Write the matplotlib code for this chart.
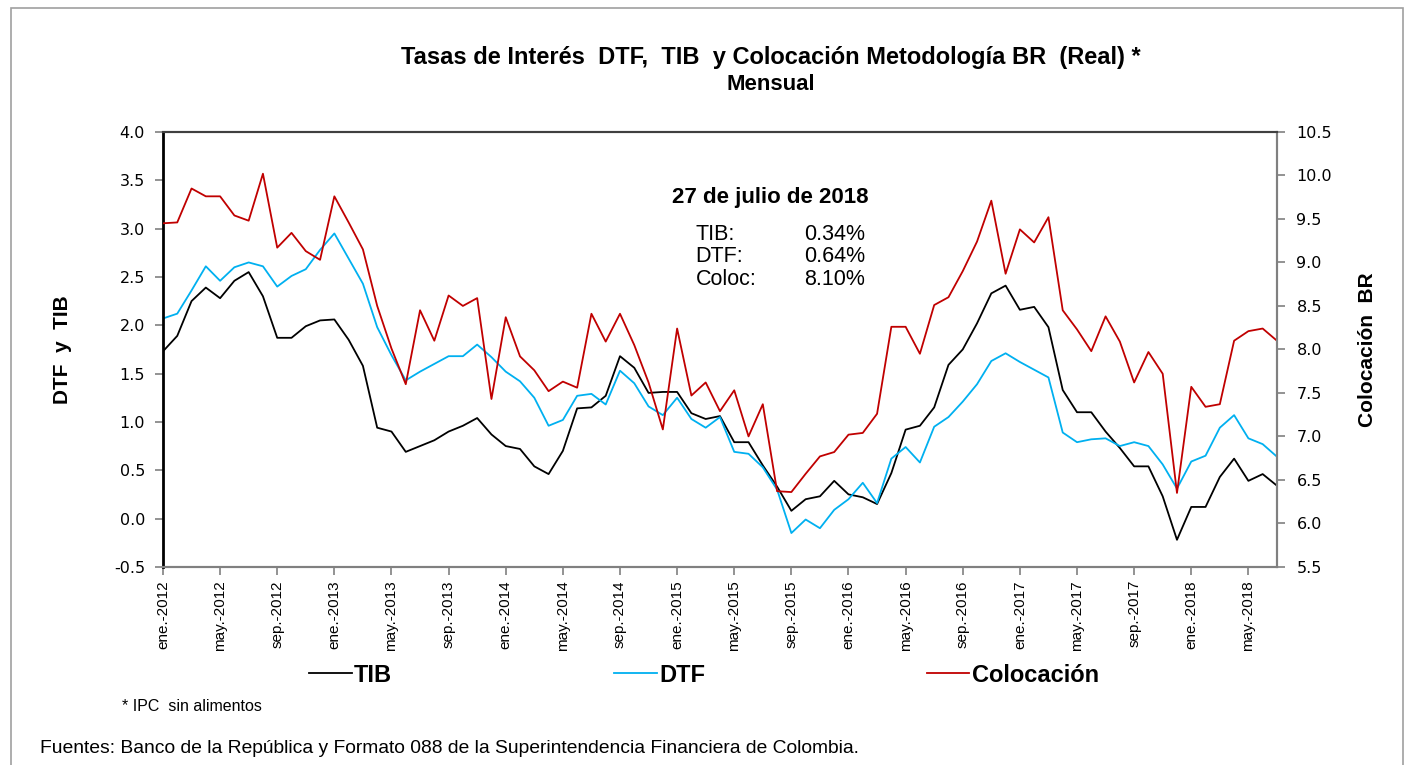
import matplotlib.pyplot as plt
from matplotlib.patches import Rectangle

# datos mensuales ene-2012 .. jul-2018
meses = ['ene.', 'feb.', 'mar.', 'abr.', 'may.', 'jun.',
         'jul.', 'ago.', 'sep.', 'oct.', 'nov.', 'dic.']
fechas = [f'{meses[i % 12]}-{2012 + i // 12}' for i in range(79)]

tib = [1.73, 1.89, 2.25, 2.39, 2.28, 2.46, 2.55, 2.30, 1.87, 1.87, 1.99, 2.05,
       2.06, 1.85, 1.58, 0.94, 0.90, 0.69, 0.75, 0.81, 0.90, 0.96, 1.04, 0.87,
       0.75, 0.72, 0.54, 0.46, 0.70, 1.14, 1.15, 1.27, 1.68, 1.56, 1.30, 1.31,
       1.31, 1.09, 1.03, 1.06, 0.79, 0.79, 0.55, 0.33, 0.08, 0.20, 0.23, 0.39,
       0.25, 0.22, 0.15, 0.47, 0.92, 0.96, 1.15, 1.59, 1.75, 2.02, 2.33, 2.41,
       2.16, 2.19, 1.98, 1.33, 1.10, 1.10, 0.90, 0.73, 0.54, 0.54, 0.23, -0.22,
       0.12, 0.12, 0.43, 0.62, 0.39, 0.46, 0.34]

dtf = [2.07, 2.12, 2.36, 2.61, 2.46, 2.60, 2.65, 2.61, 2.40, 2.51, 2.58, 2.78,
       2.95, 2.69, 2.43, 1.98, 1.69, 1.43, 1.52, 1.60, 1.68, 1.68, 1.80, 1.67,
       1.52, 1.42, 1.25, 0.96, 1.02, 1.27, 1.29, 1.18, 1.53, 1.40, 1.16, 1.07,
       1.25, 1.03, 0.94, 1.05, 0.69, 0.67, 0.53, 0.30, -0.15, -0.01, -0.10, 0.09,
       0.20, 0.37, 0.16, 0.62, 0.74, 0.58, 0.95, 1.05, 1.21, 1.39, 1.63, 1.71,
       1.62, 1.54, 1.46, 0.89, 0.79, 0.82, 0.83, 0.75, 0.79, 0.75, 0.56, 0.31,
       0.59, 0.65, 0.94, 1.07, 0.83, 0.77, 0.64]

coloc = [9.45, 9.46, 9.85, 9.76, 9.76, 9.54, 9.48, 10.02, 9.17, 9.34, 9.13, 9.03,
         9.76, 9.46, 9.15, 8.50, 8.01, 7.60, 8.45, 8.10, 8.62, 8.50, 8.59, 7.43,
         8.37, 7.92, 7.76, 7.52, 7.63, 7.56, 8.41, 8.09, 8.41, 8.05, 7.62, 7.08,
         8.24, 7.47, 7.62, 7.29, 7.53, 7.00, 7.37, 6.37, 6.36, 6.57, 6.77, 6.82,
         7.02, 7.04, 7.26, 8.26, 8.26, 7.95, 8.51, 8.60, 8.90, 9.24, 9.71, 8.87,
         9.38, 9.23, 9.52, 8.45, 8.23, 7.98, 8.38, 8.09, 7.62, 7.97, 7.72, 6.35,
         7.57, 7.34, 7.37, 8.10, 8.21, 8.24, 8.10]

plt.rcParams['font.family'] = ['Liberation Sans', 'DejaVu Sans']

fig = plt.figure(figsize=(14.11, 7.65), dpi=100)
ax = fig.add_axes([0.1155, 0.259, 0.7895, 0.5685])
ax2 = ax.twinx()

x = list(range(len(fechas)))
l1, = ax.plot(x, tib, color='black', lw=1.3, label='TIB')
l2, = ax.plot(x, dtf, color='#00B0F0', lw=1.3, label='DTF')
l3, = ax2.plot(x, coloc, color='#C00000', lw=1.3, label='Colocación')

ax.set_xlim(0, len(fechas) - 1)
ax.set_ylim(-0.5, 4.0)
ax2.set_ylim(5.5, 10.5)
ax.set_yticks([-0.5 + 0.5 * k for k in range(10)])
ax2.set_yticks([5.5 + 0.5 * k for k in range(11)])
ax.set_yticklabels([f'{-0.5 + 0.5 * k:.1f}' for k in range(10)], family='DejaVu Sans', fontsize=11.5)
ax2.set_yticklabels([f'{5.5 + 0.5 * k:.1f}' for k in range(11)], family='DejaVu Sans', fontsize=11.5)
ax.set_xticks(x[::4])
ax.set_xticklabels(fechas[::4], rotation=90, fontsize=11)

ax.tick_params(axis='both', direction='out', length=6, color='#808080', width=1.2)
ax.tick_params(axis='y', pad=7)
ax2.tick_params(axis='y', direction='out', length=6, color='#808080', width=1.2, pad=8)

for a in (ax, ax2):
    for s in a.spines.values():
        s.set_color('#808080')
        s.set_linewidth(1.5)
    a.spines['top'].set_color('#404040')
ax.spines['left'].set_color('black')
ax.spines['left'].set_linewidth(2)
ax2.spines['left'].set_visible(False)

ax.set_ylabel('DTF  y  TIB', fontsize=15, fontweight='bold', labelpad=30)
ax2.set_ylabel('Colocación  BR', fontsize=15, fontweight='bold', labelpad=19)

fig.text(0.546, 0.925, 'Tasas de Interés  DTF,  TIB  y Colocación Metodología BR  (Real) *',
         ha='center', va='center', fontsize=17, fontweight='bold')
fig.text(0.546, 0.890, 'Mensual', ha='center', va='center', fontsize=16, fontweight='bold')

# recuadro con el ultimo dato
fig.text(0.546, 0.742, '27 de julio de 2018', ha='center', va='center', fontsize=16, fontweight='bold')
etiquetas = ['TIB:', 'DTF:', 'Coloc:']
valores = ['0.34%', '0.64%', '8.10%']
for k in range(3):
    yy = 0.694 - k * 0.0295
    fig.text(0.493, yy, etiquetas[k], ha='left', va='center', fontsize=15.5)
    fig.text(0.613, yy, valores[k], ha='right', va='center', fontsize=15.5)

leg = fig.legend(handles=[l1, l2, l3], loc='center', bbox_to_anchor=(0.499, 0.1176), ncol=3,
                 frameon=False, handlelength=1.8, handletextpad=0.1, columnspacing=9.4,
                 prop={'weight': 'bold', 'size': 17})

fig.text(0.0865, 0.077, '* IPC  sin alimentos', ha='left', va='center', fontsize=11.5)
fig.text(0.028, 0.022, 'Fuentes: Banco de la República y Formato 088 de la Superintendencia Financiera de Colombia.',
         ha='left', va='center', fontsize=13.9)

# marco exterior
fig.patches.append(Rectangle((0.0075, -0.01), 0.987, 0.9995, transform=fig.transFigure,
                             fill=False, edgecolor='#A0A0A0', lw=1.2))

plt.savefig('out.png', dpi=100)
